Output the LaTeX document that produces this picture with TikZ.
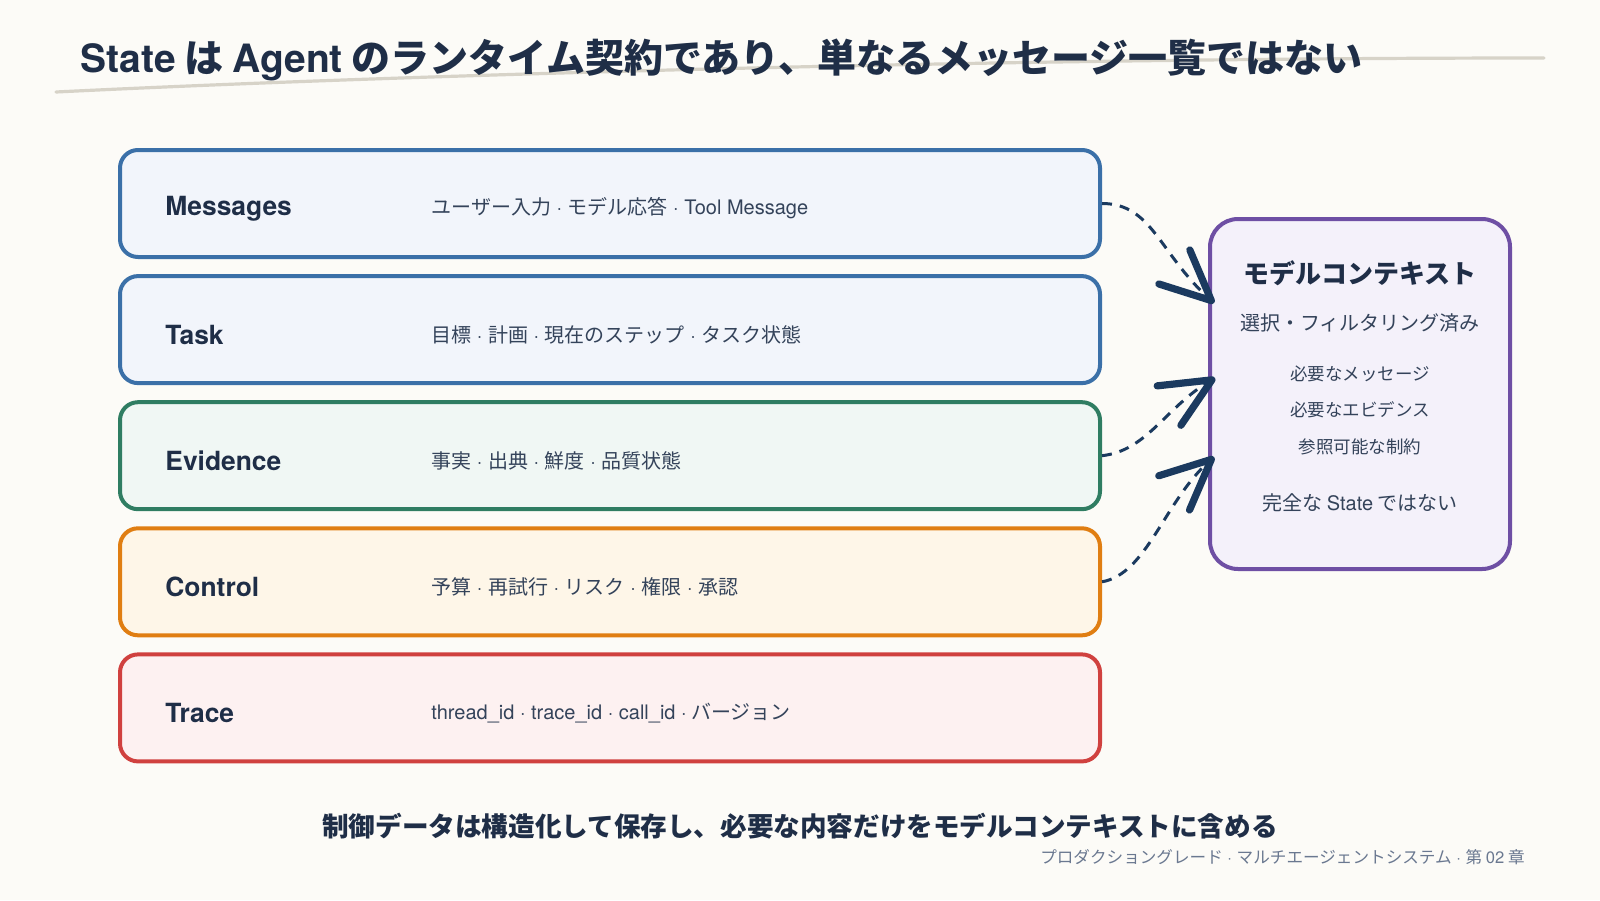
\documentclass[tikz,border=0pt]{standalone}
\usepackage{fontspec}
\setmainfont{Noto Sans CJK JP}
\newfontfamily\latfont{TeX Gyre Heros}
\newcommand{\lat}[1]{{\latfont #1}}
\newcommand{\sep}{{\latfont\ ·\ }}
\usepackage{xcolor}
\usepackage{tikz}
\usetikzlibrary{calc, arrows.meta}

\definecolor{paper}{HTML}{FCFBF7}
\definecolor{ink}{HTML}{1F2E47}
\definecolor{subink}{HTML}{34435A}
\definecolor{footink}{HTML}{6A7890}
\definecolor{swoosh}{HTML}{D7D3C8}
\definecolor{arrowink}{HTML}{1B3A5F}
\definecolor{blueline}{HTML}{3B70A8}
\definecolor{bluefill}{HTML}{F2F5FB}
\definecolor{greenline}{HTML}{2F7D62}
\definecolor{greenfill}{HTML}{F0F7F4}
\definecolor{orangeline}{HTML}{E07E12}
\definecolor{orangefill}{HTML}{FEF6E8}
\definecolor{redline}{HTML}{D0413F}
\definecolor{redfill}{HTML}{FDF1F1}
\definecolor{purpleline}{HTML}{6E4FA4}
\definecolor{purplefill}{HTML}{F4F1FA}

\begin{document}
\begin{tikzpicture}[x=0.5pt, y=-0.5pt,
		layer/.style={draw=#1line, fill=#1fill, line width=2pt, rounded corners=9pt,
			minimum width=490pt, minimum height=53.5pt, inner sep=0pt},
		laytitle/.style={anchor=west, inner sep=0pt, text=ink, font=\latfont\bfseries\fontsize{13.2}{15}\selectfont},
		laytext/.style={anchor=west, inner sep=0pt, text=subink, font=\fontsize{10}{12}\selectfont},
		ctxbox/.style={draw=purpleline, fill=purplefill, line width=2pt, rounded corners=14pt,
			minimum width=150pt, minimum height=175pt, inner sep=0pt},
		ctxline/.style={inner sep=0pt, text=subink, font=\fontsize{#1}{#1}\selectfont},
		flow/.style={draw=arrowink, line width=1.5pt, dash pattern=on 5pt off 4pt,
			-{Straight Barb[length=25pt, width=23pt, line width=3.6pt 0, round]}}
	]
			\def\pitch{126.1};
			\def\top{203.5};

			\fill[paper] (0,0) rectangle (1600,900);

			\begin{scope}
				\draw[swoosh, line width=1.6pt, line cap=round] (56,92) .. controls (400,75) and (1000,58) .. (1544,58);
				\node[anchor=west, inner sep=0pt, text=ink, font=\bfseries\fontsize{19.5}{22}\selectfont] (title) at (80,60)
					{\lat{State} は \lat{Agent} のランタイム契約であり、単なるメッセージ一覧ではない};
			\end{scope}

			\foreach \i/\key/\col/\lab/\desc in {
				0/msg/blue/Messages/{ユーザー入力\sep モデル応答\sep \lat{Tool Message}},
				1/task/blue/Task/{目標\sep 計画\sep 現在のステップ\sep タスク状態},
				2/ev/green/Evidence/{事実\sep 出典\sep 鮮度\sep 品質状態},
				3/ctl/orange/Control/{予算\sep 再試行\sep リスク\sep 権限\sep 承認},
				4/trc/red/Trace/{\lat{thread\_id · trace\_id · call\_id ·} バージョン}}
			{
				\node[layer=\col] (\key) at (610,{\top+\pitch*\i}) {};
				\node[laytitle] (\key-lab) at (165,{\top+5+\pitch*\i}) {\lab};
				\node[laytext] (\key-desc) at (431,{\top+5+\pitch*\i}) {\desc};
			}

			\begin{scope}
				\node[ctxbox] (ctx) at (1360,394) {};
				\node[ctxline=13, text=ink, font=\bfseries\fontsize{13}{13}\selectfont] (ctx-title) at (1360,273) {モデルコンテキスト};
				\node[ctxline=10] (ctx-sub) at (1360,323) {選択・フィルタリング済み};
				\node[ctxline=8.75] (ctx-a) at (1360,374) {必要なメッセージ};
				\node[ctxline=8.75] (ctx-b) at (1360,410) {必要なエビデンス};
				\node[ctxline=8.75] (ctx-c) at (1360,447) {参照可能な制約};
				\node[ctxline=10] (ctx-note) at (1360,503) {完全な \lat{State} ではない};
			\end{scope}

			\coordinate (in1) at (1214,303);
			\coordinate (in2) at (1215,378);
			\coordinate (in3) at (1214,457);

			\begin{scope}
				\draw[flow] (msg.east) .. controls +(50,0) and +(-55,-50) .. (in1);
				\draw[flow] (ev.east) .. controls +(45,-5) and +(-50,30) .. (in2);
				\draw[flow] (ctl.east) .. controls +(45,-8) and +(-50,45) .. (in3);
			\end{scope}

			\node[inner sep=0pt, text=ink, font=\bfseries\fontsize{13.3}{15}\selectfont] (caption) at (800,826)
				{制御データは構造化して保存し、必要な内容だけをモデルコンテキストに含める};
			\node[anchor=east, inner sep=0pt, text=footink, font=\fontsize{8.3}{10}\selectfont] (foot) at (1525,857)
				{プロダクショングレード\sep マルチエージェントシステム\sep 第 \lat{02} 章};
\end{tikzpicture}
\end{document}
